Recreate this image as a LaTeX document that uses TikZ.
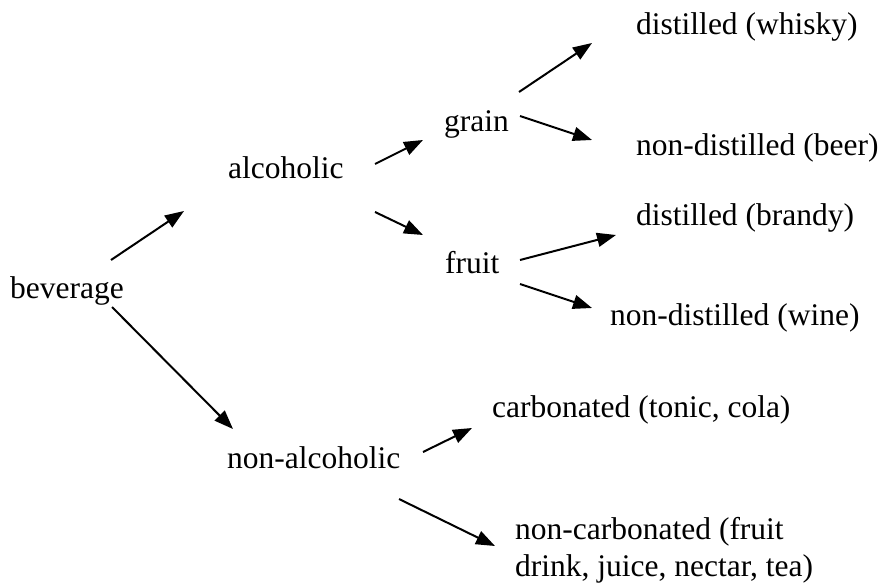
\documentclass[tikz,border=0pt]{standalone}
\usepackage{fontspec}
\setmainfont{Liberation Serif}
\usetikzlibrary{arrows.meta}
\begin{document}
\begin{tikzpicture}[x=1pt,y=-1pt,
  term/.style={anchor=base west,inner sep=0pt,font=\fontsize{31.5}{37}\selectfont},
  link/.style={line width=2pt,-{Triangle[length=19pt,width=14pt]}}]
\useasboundingbox (0,0) rectangle (882,583);

% categories
\node[term] (bev)    at (10,298)  {beverage};
\node[term] (alc)    at (228,178) {alcoholic};
\node[term] (nonalc) at (227,468) {non-alcoholic};
\node[term] (grain)  at (444,131) {grain};
\node[term] (fruit)  at (445,273) {fruit};
\node[term] (whisky) at (636,35)  {distilled (whisky)};
\node[term] (beer)   at (636,155) {non-distilled (beer)};
\node[term] (brandy) at (636,225) {distilled (brandy)};
\node[term] (wine)   at (610,325) {non-distilled (wine)};
\node[term] (carb)   at (492,417) {carbonated (tonic, cola)};
% two-line label: the base anchor sits on its last line
\node[term,align=left] (noncarb) at (515,576) {non-carbonated (fruit\\drink, juice, nectar, tea)};

% arrow end points
\coordinate (bev-a)    at (111,260);  \coordinate (alc-in)    at (184,211);
\coordinate (bev-b)    at (112,307);  \coordinate (nonalc-in) at (233,429);
\coordinate (alc-a)    at (375,164);  \coordinate (grain-in)  at (423,140);
\coordinate (alc-b)    at (375,212);  \coordinate (fruit-in)  at (423,235);
\coordinate (grain-a)  at (519,92);   \coordinate (whisky-in) at (592,43);
\coordinate (grain-b)  at (520,116);  \coordinate (beer-in)   at (592,140);
\coordinate (fruit-a)  at (520,260);  \coordinate (brandy-in) at (616,235);
\coordinate (fruit-b)  at (520,284);  \coordinate (wine-in)   at (592,308);
\coordinate (nonalc-a) at (423,452);  \coordinate (carb-in)   at (472,428);
\coordinate (nonalc-b) at (399,499);  \coordinate (noncarb-in) at (495,546);

\draw[link] (bev-a) -- (alc-in);
\draw[link] (bev-b) -- (nonalc-in);
\draw[link] (alc-a) -- (grain-in);
\draw[link] (alc-b) -- (fruit-in);
\draw[link] (grain-a) -- (whisky-in);
\draw[link] (grain-b) -- (beer-in);
\draw[link] (fruit-a) -- (brandy-in);
\draw[link] (fruit-b) -- (wine-in);
\draw[link] (nonalc-a) -- (carb-in);
\draw[link] (nonalc-b) -- (noncarb-in);
\end{tikzpicture}
\end{document}
